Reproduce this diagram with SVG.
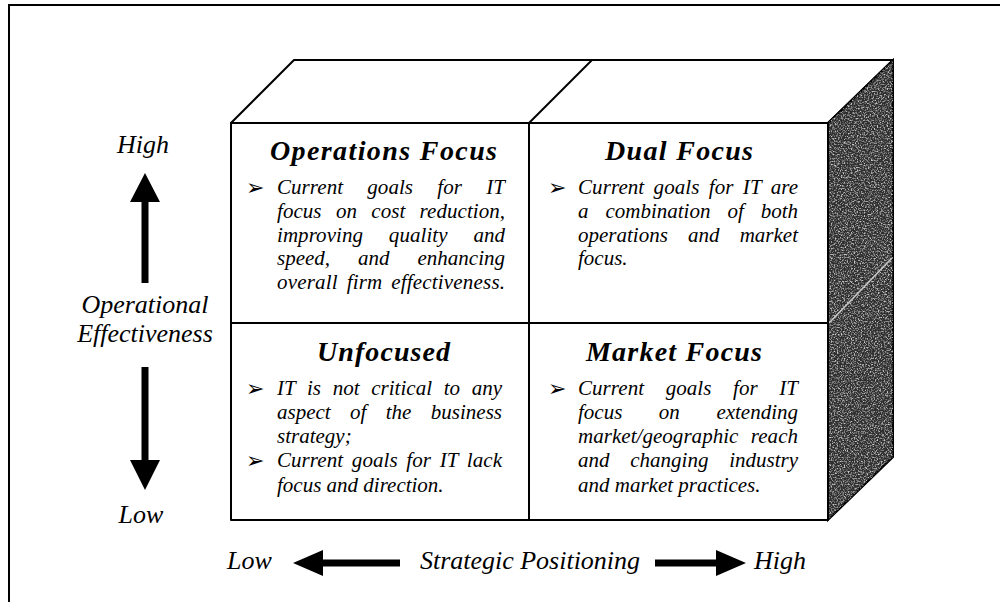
<svg xmlns="http://www.w3.org/2000/svg" width="1000" height="602" viewBox="0 0 1000 602">
<style>
.t{font-family:"Liberation Serif","Times New Roman",serif;font-style:italic;fill:#000}
.title{font-weight:bold;font-size:28px}
.body{font-size:21px}
.axis{font-size:26px}
.bul{font-family:"DejaVu Sans",sans-serif;font-style:normal;font-size:22px;fill:#000}
.edge{fill:#fff;stroke:#000;stroke-width:2;stroke-linejoin:round}
.ln{fill:none;stroke:#000;stroke-width:2}
.arr{fill:#000}
</style>
<defs>
<filter id="grain" x="0%" y="0%" width="100%" height="100%" color-interpolation-filters="sRGB">
<feTurbulence type="fractalNoise" baseFrequency="0.7" numOctaves="3" seed="7" result="noise"/>
<feColorMatrix in="noise" type="matrix" values="0 0 0 0 1  0 0 0 0 1  0 0 0 0 1  3 0 0 0 -1.35" result="spk"/>
<feComposite in="spk" in2="SourceGraphic" operator="in"/>
</filter>
</defs>
<rect width="1000" height="602" fill="#fff"/>
<g id="frame">
<path class="ln" d="M9,602 V5 H1000" stroke-width="2.5"/>
</g>
<g id="cube-top">
<polygon class="edge" points="231,123 294,60 893,60 828,123"/>
<line class="ln" x1="529" y1="123" x2="592" y2="60"/>
</g>
<g id="cube-side">
<polygon points="828,123 893,60 893,457 828,520" fill="#2e2e2e" stroke="#000" stroke-width="2"/>
<polygon points="828,123 893,60 893,457 828,520" fill="#000" filter="url(#grain)" opacity="0.75"/>
<line x1="829" y1="323" x2="892" y2="258" stroke="#c8c8c8" stroke-width="1.6"/>
</g>
<g id="cube-front">
<rect class="edge" x="231" y="123" width="597" height="397"/>
<line class="ln" x1="231" y1="323" x2="828" y2="323"/>
<line class="ln" x1="529" y1="123" x2="529" y2="520"/>
</g>
<g id="cell-operations">
<text class="t title" x="270" y="160" textLength="227" lengthAdjust="spacing">Operations Focus</text>
<text class="bul" x="246" y="195">➢</text>
<text class="t body" x="277" y="194" textLength="228" lengthAdjust="spacing" style="word-spacing:19px">Current goals for IT</text>
<text class="t body" x="277" y="218" textLength="228" lengthAdjust="spacing" style="word-spacing:9px">focus on cost reduction,</text>
<text class="t body" x="277" y="241.5" textLength="228" lengthAdjust="spacing" style="word-spacing:20.6px">improving quality and</text>
<text class="t body" x="277" y="265" textLength="228" lengthAdjust="spacing" style="word-spacing:22.7px">speed, and enhancing</text>
<text class="t body" x="277" y="289" textLength="228" lengthAdjust="spacing" style="word-spacing:3.5px">overall firm effectiveness.</text>
</g>
<g id="cell-dual">
<text class="t title" x="605" y="160" textLength="148" lengthAdjust="spacing">Dual Focus</text>
<text class="bul" x="548" y="195">➢</text>
<text class="t body" x="578" y="194" textLength="220" lengthAdjust="spacing" style="word-spacing:4px">Current goals for IT are</text>
<text class="t body" x="578" y="218" textLength="220" lengthAdjust="spacing" style="word-spacing:11.7px">a combination of both</text>
<text class="t body" x="578" y="241.5" textLength="220" lengthAdjust="spacing" style="word-spacing:14.9px">operations and market</text>
<text class="t body" x="578" y="265">focus.</text>
</g>
<g id="cell-unfocused">
<text class="t title" x="317" y="361" textLength="133" lengthAdjust="spacing">Unfocused</text>
<text class="bul" x="246" y="396">➢</text>
<text class="t body" x="277" y="395" textLength="225" lengthAdjust="spacing" style="word-spacing:6.4px">IT is not critical to any</text>
<text class="t body" x="277" y="419" textLength="225" lengthAdjust="spacing" style="word-spacing:14.1px">aspect of the business</text>
<text class="t body" x="277" y="443">strategy;</text>
<text class="bul" x="246" y="468">➢</text>
<text class="t body" x="277" y="467" textLength="225" lengthAdjust="spacing" style="word-spacing:3.4px">Current goals for IT lack</text>
<text class="t body" x="277" y="492">focus and direction.</text>
</g>
<g id="cell-market">
<text class="t title" x="586" y="361" textLength="176" lengthAdjust="spacing">Market Focus</text>
<text class="bul" x="548" y="396">➢</text>
<text class="t body" x="578" y="395" textLength="220" lengthAdjust="spacing" style="word-spacing:16.3px">Current goals for IT</text>
<text class="t body" x="578" y="419" textLength="220" lengthAdjust="spacing" style="word-spacing:31.3px">focus on extending</text>
<text class="t body" x="578" y="443" textLength="220" lengthAdjust="spacing" style="word-spacing:7.1px">market/geographic reach</text>
<text class="t body" x="578" y="467" textLength="220" lengthAdjust="spacing" style="word-spacing:15.5px">and changing industry</text>
<text class="t body" x="578" y="492">and market practices.</text>
</g>
<g id="axis-vertical">
<text class="t axis" x="143" y="153" text-anchor="middle">High</text>
<text class="t axis" x="145" y="313" text-anchor="middle">Operational</text>
<text class="t axis" x="145" y="342" text-anchor="middle">Effectiveness</text>
<text class="t axis" x="141" y="523" text-anchor="middle">Low</text>
</g>
<g id="axis-horizontal">
<text class="t axis" x="227" y="569">Low</text>
<text class="t axis" x="420" y="569" textLength="220" lengthAdjust="spacing">Strategic Positioning</text>
<text class="t axis" x="754" y="569">High</text>
</g>
<g id="connectors">
<polygon class="arr" points="145,173 160,202 148.5,202 148.5,283 141.5,283 141.5,202 130,202"/>
<polygon class="arr" points="141.5,367 148.5,367 148.5,460 160,460 145,490 130,460 141.5,460"/>
<polygon class="arr" points="293,563 323,550 323,559.5 400,559.5 400,566.5 323,566.5 323,576"/>
<polygon class="arr" points="655,559.5 716,559.5 716,550 746,563 716,576 716,566.5 655,566.5"/>
</g>
</svg>
